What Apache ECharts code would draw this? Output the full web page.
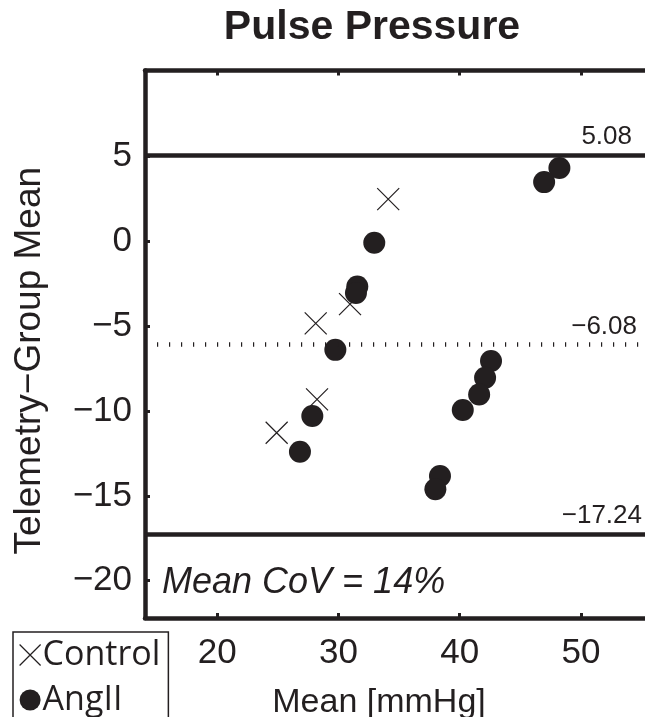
<!DOCTYPE html>
<html>
<head>
<meta charset="utf-8">
<script src="https://cdn.jsdelivr.net/npm/echarts@6/dist/echarts.min.js"></script>
<style>
html,body{margin:0;padding:0;background:#fff;}
#chart{width:645px;height:717px;}
</style>
</head>
<body>
<div id="chart"></div>
<script>
// ---- data ----
const titleText = 'Pulse Pressure';
const xName = 'Mean [mmHg]';
const yName = 'Telemetry\u2212Group Mean';
const noteText = 'Mean CoV = 14%';
const xTicks = [20, 30, 40, 50];
const yTicks = [-20, -15, -10, -5, 0, 5];
const xRange = [14.04, 55.28];
const yRange = [-22.2, 10.08];

const controlX = [34.1, 30.95, 28.12, 28.23, 24.9];
const controlY = [2.5, -3.69, -4.83, -9.31, -11.28];

const angX = [48.22, 46.96, 32.95, 31.55, 31.44, 29.74, 42.58, 42.09, 41.6, 40.25, 27.84, 26.82, 38.37, 37.99];
const angY = [4.33, 3.5, -0.08, -2.65, -3.04, -6.39, -7.05, -8.04, -9.02, -9.94, -10.29, -12.4, -13.83, -14.61];

const upperLimit = 5.08;
const meanBias = -6.08;
const lowerLimit = -17.24;
const biasLineStartX = 15.03;

// ---- chart ----
const INK = '#231f20';
const FONT = '"Liberation Sans", Arial, Helvetica, sans-serif';
const fmt = v => (v < 0 ? '\u2212' + Math.abs(v) : String(v));
const fmtLim = v => (v < 0 ? '\u2212' + Math.abs(v).toFixed(2) : v.toFixed(2));

const chart = echarts.init(document.getElementById('chart'), null, {renderer: 'canvas'});

const xMk = (position, showLabel) => ({
  type: 'value', position: position, min: xRange[0], max: xRange[1],
  splitLine: {show: false},
  axisLine: {show: true, onZero: false, lineStyle: {color: INK, width: 4.5}},
  axisTick: {show: true, inside: true, length: 5, customValues: xTicks, lineStyle: {color: INK, width: 3}},
  axisLabel: {show: showLabel, customValues: xTicks, margin: 18, color: INK, fontSize: 35, fontFamily: FONT},
  name: showLabel ? xName : '', nameLocation: 'middle', nameGap: 68,
  nameTextStyle: {color: INK, fontSize: 34, fontFamily: FONT, padding: [0, 32, 0, 0]}
});

const lineLabel = (val, dist) => ({
  show: true, position: 'insideEndTop', formatter: fmtLim(val),
  color: INK, fontSize: 26, fontFamily: FONT, distance: dist
});

const option = {
  backgroundColor: '#fff',
  animation: false,
  title: [
    {text: titleText, left: 372, textAlign: 'center', top: 7, padding: 0,
     textStyle: {color: INK, fontSize: 41, fontWeight: 'bold', fontFamily: FONT}},
    {text: noteText, left: 162, top: 565, padding: 0,
     textStyle: {color: INK, fontSize: 36, fontStyle: 'italic', fontWeight: 'normal', fontFamily: FONT}}
  ],
  legend: {
    show: true, orient: 'vertical', left: 13, top: 632, height: 200, width: 170,
    padding: [6, 8, 14, 6], itemGap: 11,
    itemWidth: 21, itemHeight: 21,
    borderColor: INK, borderWidth: 1.5,
    textStyle: {color: INK, fontSize: 34, fontFamily: '"Open Sans", "Noto Sans", sans-serif', padding: [0, 0, 0, -3]},
    data: [
      {name: 'Control', icon: 'path://M0,0L10,10M10,0L0,10', itemStyle: {color: 'rgba(0,0,0,0)', borderColor: INK, borderWidth: 1.2}},
      {name: 'AngII', icon: 'circle', itemStyle: {color: INK, borderWidth: 0}}
    ]
  },
  grid: {left: 145, right: 0, top: 70.5, bottom: 99, containLabel: false, outerBoundsMode: 'none'},
  xAxis: [xMk('bottom', true), xMk('top', false)],
  yAxis: {
    type: 'value', min: yRange[0], max: yRange[1],
    splitLine: {show: false},
    axisLine: {show: true, onZero: false, lineStyle: {color: INK, width: 4.5}},
    axisTick: {show: true, inside: true, length: 5, customValues: yTicks, lineStyle: {color: INK, width: 3}},
    axisLabel: {customValues: yTicks, margin: 13, color: INK, fontSize: 35, fontFamily: FONT, formatter: fmt},
    name: yName, nameLocation: 'middle', nameGap: 97, nameRotate: 90,
    nameTextStyle: {color: INK, fontSize: 37, fontFamily: FONT, padding: [0, 33, 0, 0]}
  },
  series: [
    {
      name: 'Control', type: 'scatter', xAxisIndex: 0,
      symbol: 'path://M0,0L10,10M10,0L0,10', symbolSize: 22,
      itemStyle: {color: 'rgba(0,0,0,0)', borderColor: INK, borderWidth: 1.2, opacity: 1},
      data: controlX.map((x, i) => [x, controlY[i]]),
      markLine: {
        silent: true, symbol: ['none', 'none'], animation: false,
        data: [
          {yAxis: upperLimit, lineStyle: {color: INK, width: 4.5, type: 'solid'}, label: lineLabel(upperLimit, [13, 5])},
          {yAxis: lowerLimit, lineStyle: {color: INK, width: 4.5, type: 'solid'}, label: lineLabel(lowerLimit, [3, 5])},
          [
            {coord: [biasLineStartX, meanBias], lineStyle: {color: INK, width: 4.5, type: [1.2, 10.8]}, label: lineLabel(meanBias, [8, 5])},
            {coord: [xRange[1], meanBias]}
          ]
        ]
      }
    },
    {
      name: 'AngII', type: 'scatter', xAxisIndex: 0,
      symbol: 'circle', symbolSize: 22,
      itemStyle: {color: INK, opacity: 1},
      data: angX.map((x, i) => [x, angY[i]])
    }
  ]
};
chart.setOption(option);
</script>
</body>
</html>
